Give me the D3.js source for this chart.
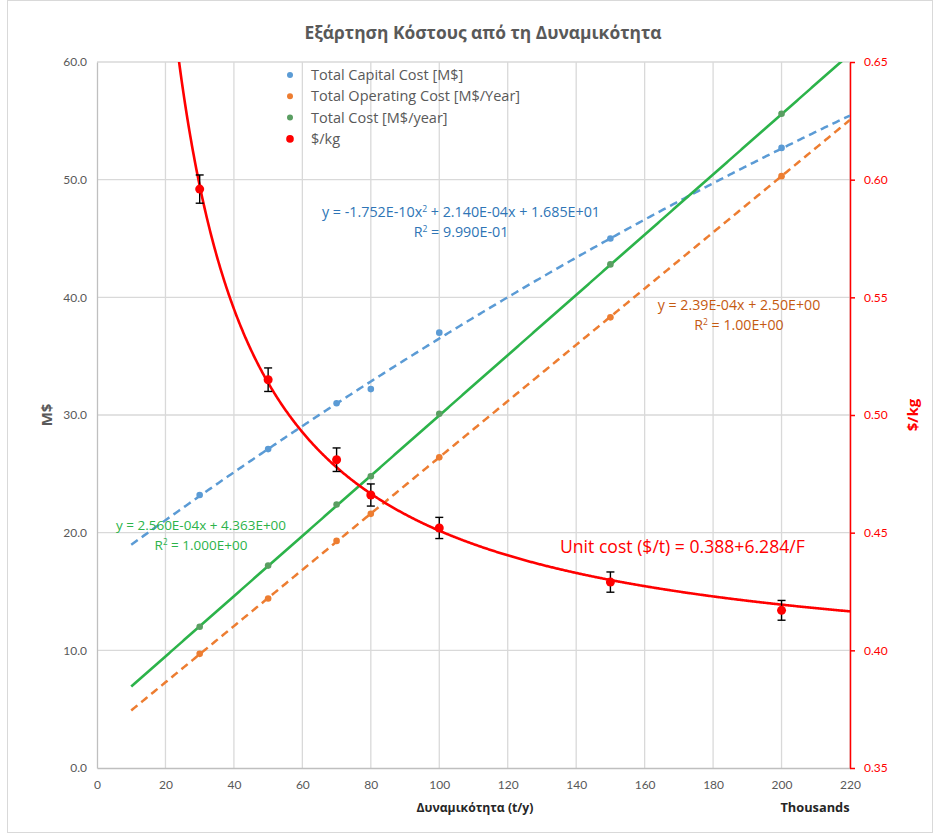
<!DOCTYPE html>
<html>
<head>
<meta charset="utf-8">
<script src="https://cdn.jsdelivr.net/npm/d3@7/dist/d3.min.js"></script>
<style>
  html, body { margin: 0; padding: 0; background: #fff; }
  svg { display: block; font-family: "Open Sans", Lato, sans-serif; }
</style>
</head>
<body>
<svg id="chart" width="940" height="839"></svg>
<script>
// Capacity in thousands of t/y
const capacity = [30, 50, 70, 80, 100, 150, 200];
const capitalCost = [23.2, 27.1, 31.0, 32.2, 37.0, 45.0, 52.7];
const operatingCost = [9.7, 14.4, 19.3, 21.6, 26.4, 38.3, 50.3];
const totalCost = [12.0, 17.2, 22.4, 24.8, 30.1, 42.8, 55.6];
const unitCost = [0.596, 0.515, 0.481, 0.466, 0.452, 0.429, 0.417];
const unitCostErr = [0.006, 0.005, 0.005, 0.0047, 0.0045, 0.0043, 0.0042];

// Trendline coefficients (x in t/y)
const capitalFit = [-1.752e-10, 2.140e-4, 16.85];   // a x^2 + b x + c
const operatingFit = [2.39e-4, 2.50];                // m x + k
const totalFit = [2.560e-4, 4.363];                  // m x + k
const unitFit = [0.388, 6.284];                      // a + b / F

const xTicks = [0, 20, 40, 60, 80, 100, 120, 140, 160, 180, 200, 220];
const yTicks = [0, 10, 20, 30, 40, 50, 60];
const y2Ticks = [0.35, 0.40, 0.45, 0.50, 0.55, 0.60, 0.65];

const legendLabels = ["Total Capital Cost [M$]", "Total Operating Cost [M$/Year]", "Total Cost [M$/year]", "$/kg"];
const title = "Εξάρτηση Κόστους από τη Δυναμικότητα";

const colors = {
  capital: "#5b9bd5", operating: "#ed7d31", totalLine: "#2cb34a", totalPt: "#5a9e62",
  unit: "#ff0000", text: "#595959", grid: "#d9d9d9"
};

const svg = d3.select("#chart");
const L = 97, R = 850, T = 62, B = 768;

const x = d3.scaleLinear().domain([0, 220]).range([L, R]);
const y = d3.scaleLinear().domain([0, 60]).range([B, T]);
const y2 = d3.scaleLinear().domain([0.35, 0.65]).range([B, T]);

// outer frame
svg.append("rect").attr("x", 7.5).attr("y", 0.5).attr("width", 925).attr("height", 832)
  .attr("fill", "none").attr("stroke", "#d9d9d9");

// title
svg.append("text").attr("x", 483).attr("y", 39).attr("text-anchor", "middle")
  .attr("font-size", 17.4).attr("font-weight", "bold").attr("fill", colors.text).text(title);

// grid
svg.append("g").selectAll("line").data(yTicks.slice(1)).join("line")
  .attr("x1", L).attr("x2", R).attr("y1", d => y(d)).attr("y2", d => y(d))
  .attr("stroke", colors.grid).attr("stroke-width", 1.3);
svg.append("g").selectAll("line").data(xTicks.slice(1)).join("line")
  .attr("x1", d => x(d)).attr("x2", d => x(d)).attr("y1", T).attr("y2", B)
  .attr("stroke", colors.grid).attr("stroke-width", 1.3);

// bottom axis
const xAxis = svg.append("g").attr("transform", `translate(0,${B})`)
  .call(d3.axisBottom(x).tickValues(xTicks).tickSize(0).tickPadding(12));
xAxis.select(".domain").attr("stroke", "#bfbfbf").attr("stroke-width", 1.3);
xAxis.selectAll("text").attr("font-size", 12).attr("fill", colors.text).attr("font-family", "Lato, sans-serif");

// left axis
const yAxis = svg.append("g").attr("transform", `translate(${L},0)`)
  .call(d3.axisLeft(y).tickValues(yTicks).tickFormat(d3.format(".1f")).tickSize(0).tickPadding(10));
yAxis.select(".domain").attr("stroke", "#bfbfbf").attr("stroke-width", 1.3);
yAxis.selectAll("text").attr("font-size", 12).attr("fill", colors.text).attr("font-family", "Lato, sans-serif");

// right axis
const y2Axis = svg.append("g").attr("transform", `translate(${R},0)`)
  .call(d3.axisRight(y2).tickValues(y2Ticks).tickFormat(d3.format(".2f")).tickSize(5).tickSizeOuter(0).tickPadding(9));
y2Axis.select(".domain").attr("stroke", colors.unit).attr("stroke-width", 1.5);
y2Axis.selectAll("line").attr("stroke", colors.unit).attr("stroke-width", 1.5);
y2Axis.selectAll("text").attr("font-size", 12).attr("fill", colors.unit).attr("font-family", "Lato, sans-serif");

// axis titles
svg.append("text").attr("transform", `translate(52,415) rotate(-90)`).attr("text-anchor", "middle")
  .attr("font-size", 15).attr("font-weight", "bold").attr("fill", colors.text).text("M$");
svg.append("text").attr("transform", `translate(918,415) rotate(-90)`).attr("text-anchor", "middle")
  .attr("font-size", 15).attr("font-weight", "bold").attr("fill", colors.unit).text("$/kg");
svg.append("text").attr("x", 475).attr("y", 812).attr("text-anchor", "middle")
  .attr("font-size", 12.2).attr("font-weight", "bold").attr("fill", "#262626").text("Δυναμικότητα (t/y)");
svg.append("text").attr("x", 815).attr("y", 812).attr("text-anchor", "middle")
  .attr("font-size", 12.8).attr("font-weight", "bold").attr("fill", "#262626").text("Thousands");

// clip to plot area
svg.append("defs").append("clipPath").attr("id", "plot")
  .append("rect").attr("x", L).attr("y", T).attr("width", R - L).attr("height", B - T);
const plot = svg.append("g").attr("clip-path", "url(#plot)");

const xs = d3.range(10, 220.5, 0.5);
const line = (ys) => d3.line().x(d => x(d[0])).y(d => ys(d[1]));

// trendlines
const capLineData = xs.map(v => { const t = v * 1000; return [v, capitalFit[0] * t * t + capitalFit[1] * t + capitalFit[2]]; });
const opLineData = xs.map(v => [v, operatingFit[0] * v * 1000 + operatingFit[1]]);
const totLineData = xs.map(v => [v, totalFit[0] * v * 1000 + totalFit[1]]);
const unitLineData = d3.range(20, 220.25, 0.25).map(v => [v, unitFit[0] + unitFit[1] / v]);

plot.append("path").datum(opLineData).attr("d", line(y)).attr("fill", "none")
  .attr("stroke", colors.operating).attr("stroke-width", 2.5).attr("stroke-dasharray", "8,5");
plot.append("path").datum(capLineData).attr("d", line(y)).attr("fill", "none")
  .attr("stroke", colors.capital).attr("stroke-width", 2.5).attr("stroke-dasharray", "8,5");
plot.append("path").datum(totLineData).attr("d", line(y)).attr("fill", "none")
  .attr("stroke", colors.totalLine).attr("stroke-width", 2.6);

// markers
const pts = (vals, col, r) => plot.append("g").selectAll("circle").data(capacity).join("circle")
  .attr("cx", d => x(d)).attr("cy", (d, i) => y(vals[i])).attr("r", r).attr("fill", col);
pts(capitalCost, colors.capital, 3.3);
pts(operatingCost, colors.operating, 3.3);
pts(totalCost, colors.totalPt, 3.3);

// unit cost curve
plot.append("path").datum(unitLineData).attr("d", line(y2)).attr("fill", "none")
  .attr("stroke", colors.unit).attr("stroke-width", 2.6);

// error bars
const eb = plot.append("g").attr("stroke", "#000").attr("stroke-width", 1.4);
capacity.forEach((c, i) => {
  const cx = x(c), top = y2(unitCost[i] + unitCostErr[i]), bot = y2(unitCost[i] - unitCostErr[i]);
  eb.append("line").attr("x1", cx).attr("x2", cx).attr("y1", top).attr("y2", bot);
  eb.append("line").attr("x1", cx - 4).attr("x2", cx + 4).attr("y1", top).attr("y2", top);
  eb.append("line").attr("x1", cx - 4).attr("x2", cx + 4).attr("y1", bot).attr("y2", bot);
});
plot.append("g").selectAll("circle").data(capacity).join("circle")
  .attr("cx", d => x(d)).attr("cy", (d, i) => y2(unitCost[i])).attr("r", 4.5).attr("fill", colors.unit);

// legend
const legCols = [colors.capital, colors.operating, colors.totalPt, colors.unit];
const leg = svg.append("g");
legendLabels.forEach((lab, i) => {
  const ly = 75 + i * 21.3;
  leg.append("circle").attr("cx", 290).attr("cy", ly).attr("r", i === 3 ? 3.8 : 3).attr("fill", legCols[i]);
  leg.append("text").attr("x", 311).attr("y", ly + 5).attr("font-size", 14.5).attr("fill", colors.text).text(lab);
});

// trendline equations
const eqn = (lines, cx, cy, col, size) => {
  const g = svg.append("g");
  lines.forEach((t, i) => {
    const tx = g.append("text").attr("x", cx).attr("y", cy + i * 19.5).attr("text-anchor", "middle")
      .attr("font-size", size).attr("fill", col);
    t.forEach(part => {
      const s = tx.append("tspan").text(part.t);
      if (part.sup) s.attr("font-size", size * 0.6).attr("dy", -5);
      else if (part.after) s.attr("dy", 5);
    });
  });
};
eqn([[{ t: "y = -1.752E-10x" }, { t: "2", sup: true }, { t: " + 2.140E-04x + 1.685E+01", after: true }],
     [{ t: "R" }, { t: "2", sup: true }, { t: " = 9.990E-01", after: true }]], 461, 217, "#2e75b6", 14.3);
eqn([[{ t: "y = 2.39E-04x + 2.50E+00" }],
     [{ t: "R" }, { t: "2", sup: true }, { t: " = 1.00E+00", after: true }]], 739, 310, "#c55a11", 14.2);
eqn([[{ t: "y = 2.560E-04x + 4.363E+00" }],
     [{ t: "R" }, { t: "2", sup: true }, { t: " = 1.000E+00", after: true }]], 201, 530, "#2cb34a", 13.5);
svg.append("text").attr("x", 560).attr("y", 553).attr("font-size", 17.6).attr("fill", colors.unit)
  .text("Unit cost ($/t) = 0.388+6.284/F");
</script>
</body>
</html>
